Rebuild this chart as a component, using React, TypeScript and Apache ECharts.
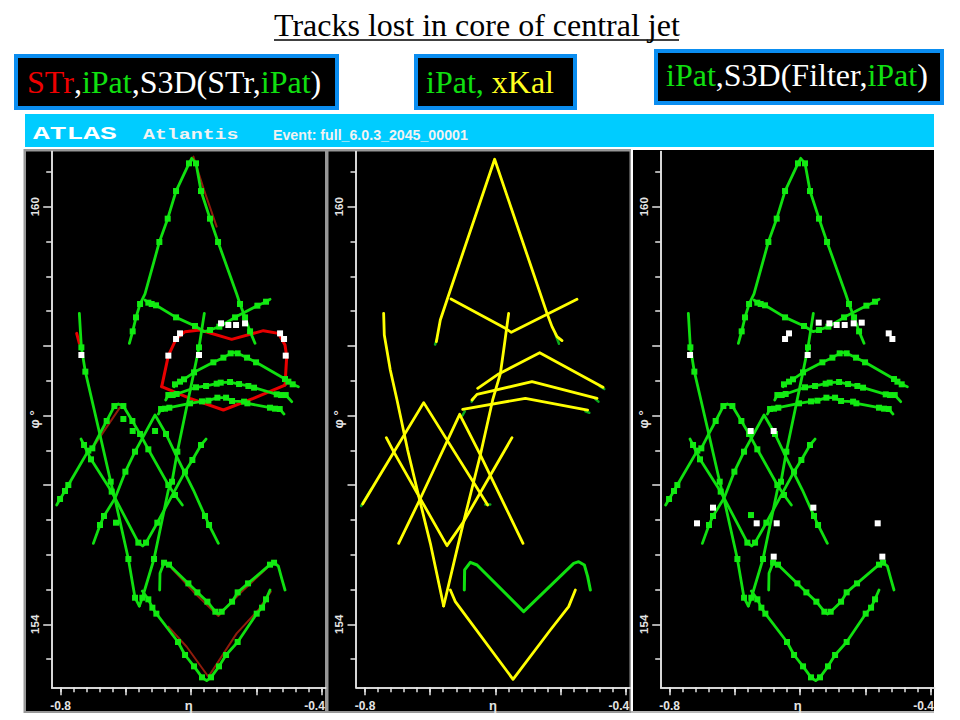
import React, { useEffect, useRef } from "react";
import * as echarts from "echarts";

type Pt = number[]; // [eta, phi, hit?]

// iPat tracks shown in panels 1 and 3: [eta, phi, 1 when a hit square sits on it]
const trackApex: Pt[] = [[-0.6947,158.037],[-0.6896,158.209,1],[-0.6845,158.41,1],[-0.6783,158.602,1],[-0.6707,158.746],[-0.6487,159.493,1],[-0.6359,159.828,1],[-0.6231,160.225,1],[-0.6032,160.623,1],[-0.5991,160.695],[-0.5925,160.623,1],[-0.5848,160.225,1],[-0.571,159.828,1],[-0.5587,159.493,1],[-0.5301,158.746],[-0.525,158.602,1],[-0.5173,158.41,1],[-0.5096,158.209,1],[-0.502,158.037]];
const trackShallowV: Pt[] = [[-0.6707,158.659],[-0.6656,158.621,1],[-0.6605,158.602,1],[-0.6538,158.583,1],[-0.6231,158.41,1],[-0.594,158.286,1],[-0.5797,158.204],[-0.571,158.228,1],[-0.5567,158.276,1],[-0.5326,158.41,1],[-0.4984,158.578,1],[-0.4851,158.635,1],[-0.479,158.669]];
const trackChevronHigh: Pt[] = [[-0.6262,157.414],[-0.6247,157.448,1],[-0.617,157.486,1],[-0.6109,157.52,1],[-0.5955,157.62,1],[-0.5659,157.764,1],[-0.5505,157.831,1],[-0.5393,157.893,1],[-0.5352,157.907],[-0.5286,157.893,1],[-0.5142,157.831,1],[-0.5004,157.764,1],[-0.456,157.524,1],[-0.4508,157.486,1],[-0.4442,157.448,1],[-0.4355,157.414]];
const trackChevronMid: Pt[] = [[-0.639,157.223],[-0.6349,157.294,1],[-0.6282,157.294,1],[-0.6221,157.309,1],[-0.5925,157.405,1],[-0.5771,157.424,1],[-0.5608,157.457,1],[-0.5546,157.472,1],[-0.5403,157.481,1],[-0.5265,157.452,1],[-0.5122,157.424,1],[-0.5035,157.4,1],[-0.4687,157.304,1],[-0.4621,157.294,1],[-0.4549,157.294,1],[-0.4457,157.199]];
const trackChevronLow: Pt[] = [[-0.6502,157.021],[-0.6461,157.093,1],[-0.64,157.098,1],[-0.6334,157.112,1],[-0.6017,157.175,1],[-0.5833,157.203,1],[-0.5735,157.213,1],[-0.5597,157.256,1],[-0.5464,157.256,1],[-0.5372,157.208,1],[-0.5188,157.199,1],[-0.5137,157.175,1],[-0.479,157.112,1],[-0.4713,157.098,1],[-0.4641,157.093,1],[-0.4575,157.021]];
const trackLongFall: Pt[] = [[-0.7714,158.468],[-0.7683,157.979,1],[-0.7622,157.63,1],[-0.7397,156.72],[-0.7233,156.049,1],[-0.7157,155.757],[-0.6962,154.938,1],[-0.686,154.382,1],[-0.6794,154.263]];
const trackLongRise: Pt[] = [[-0.6794,154.263],[-0.6748,154.382,1],[-0.6569,154.938,1],[-0.6349,155.929],[-0.6293,156.049,1],[-0.6211,156.48,1],[-0.5955,157.63],[-0.5879,157.979,1],[-0.5797,158.468]];
const trackPeakA: Pt[] = [[-0.8062,155.714],[-0.801,155.8,1],[-0.7934,155.915,1],[-0.7883,156.001,1],[-0.7576,156.495,1],[-0.7515,156.528,1],[-0.7397,156.744],[-0.7295,156.921,1],[-0.7177,157.136,1],[-0.7116,157.165],[-0.7039,157.136,1],[-0.6901,156.921,1],[-0.6783,156.734,1],[-0.6656,156.514,1],[-0.6349,156.001,1],[-0.6247,155.858,1],[-0.6134,155.714]];
const trackPeakB: Pt[] = [[-0.7499,155.163],[-0.7397,155.427,1],[-0.7336,155.556,1],[-0.7167,155.81],[-0.7008,156.193,1],[-0.686,156.48,1],[-0.6553,157.007],[-0.6385,156.734,1],[-0.6211,156.39],[-0.5965,155.929],[-0.5787,155.556,1],[-0.5725,155.427,1],[-0.5582,155.163]];
const trackDeepV: Pt[] = [[-0.7688,156.662],[-0.7642,156.576,1],[-0.7535,156.37,1],[-0.7218,155.906,1],[-0.6809,155.173,1],[-0.6743,155.125],[-0.6691,155.173,1],[-0.6518,155.46,1],[-0.6093,156.193,1],[-0.5981,156.361,1],[-0.5848,156.576,1],[-0.5771,156.662]];
const trackCurvedUpper: Pt[] = [[-0.6482,154.493],[-0.6477,154.732],[-0.6415,154.885,1],[-0.6339,154.857,1],[-0.6042,154.588,1],[-0.5904,154.459,1],[-0.5751,154.325,1],[-0.5628,154.181,1],[-0.5582,154.148],[-0.5531,154.181,1],[-0.5372,154.325,1],[-0.5286,154.459,1],[-0.5127,154.588,1],[-0.479,154.857,1],[-0.4728,154.885,1],[-0.4662,154.837],[-0.4611,154.66],[-0.456,154.493]];
const trackCurvedLower: Pt[] = [[-0.6748,154.478],[-0.6656,154.359,1],[-0.6594,154.239,1],[-0.6533,154.153,1],[-0.6201,153.746,1],[-0.6093,153.559,1],[-0.5955,153.396,1],[-0.5833,153.238,1],[-0.5761,153.19],[-0.5695,153.238,1],[-0.5572,153.396,1],[-0.5464,153.559,1],[-0.5286,153.746,1],[-0.4994,154.153,1],[-0.4912,154.239,1],[-0.4851,154.359,1],[-0.479,154.493]];
const greenTracks = [trackApex, trackShallowV, trackChevronHigh, trackChevronMid, trackChevronLow, trackLongFall, trackLongRise, trackPeakA, trackPeakB, trackDeepV, trackCurvedUpper, trackCurvedLower];

// Panel-only square hits
const greenHitsPanel1 = [[-0.7039,156.95],[-0.6896,156.777],[-0.6553,156.777],[-0.7152,155.46]];
const greenHitsPanel3 = [[-0.6753,155.57]];
const whiteHitsPanel1 = [[-0.7683,157.869],[-0.6349,157.86],[-0.6231,158.099],[-0.617,158.18],[-0.5879,157.869],[-0.5541,158.324],[-0.5429,158.3],[-0.5311,158.3],[-0.5173,158.324],[-0.4636,158.18],[-0.4575,158.099],[-0.4549,157.86]];
const whiteHitsPanel3 = [[-0.7688,157.869],[-0.6231,158.099],[-0.617,158.18],[-0.5884,157.869],[-0.5715,158.334],[-0.5551,158.324],[-0.5439,158.3],[-0.5316,158.3],[-0.5178,158.324],[-0.5055,158.334],[-0.4641,158.18],[-0.4585,158.099],[-0.6758,156.777],[-0.6405,156.777],[-0.7336,155.676],[-0.7581,155.451],[-0.6666,155.451],[-0.6359,155.451],[-0.5797,155.676],[-0.481,155.451],[-0.6405,154.972],[-0.4739,154.972]];

// STr tracks of panel 1
const redTracks = [
  [[-0.6451,157.414],[-0.6349,157.86],[-0.6231,158.099],[-0.6093,158.204],[-0.5863,158.228],[-0.5378,158.094],[-0.4892,158.219],[-0.4662,158.18],[-0.456,158.013],[-0.4534,157.845],[-0.456,157.438]],
  [[-0.6451,157.414],[-0.6017,157.246],[-0.5505,157.079],[-0.5045,157.246],[-0.456,157.438]],
  [[-0.7755,158.18],[-0.7714,158.037]],
];
const redShadows = [
  [[-0.5965,160.719],[-0.5802,160.24],[-0.5608,159.713]],
  [[-0.7525,156.514],[-0.709,157.117]],
  [[-0.6298,154.804],[-0.5965,154.469],[-0.5582,154.119],[-0.525,154.445],[-0.4841,154.804]],
  [[-0.6349,153.966],[-0.6068,153.678],[-0.5735,153.247],[-0.5301,153.87],[-0.4969,154.205],[-0.4779,154.469]],
];

// xKal tracks of panel 2
const yellowTracks = [
  [[-0.6906,158.061],[-0.6845,158.373],[-0.6691,158.804],[-0.6012,160.681],[-0.5209,158.468],[-0.5132,158.277],[-0.5055,158.133],[-0.4979,158.076]],
  [[-0.6681,158.674],[-0.5848,158.253],[-0.5756,158.195],[-0.4749,158.669]],
  [[-0.6272,157.391],[-0.595,157.597],[-0.5321,157.903],[-0.435,157.405]],
  [[-0.6359,157.223],[-0.6282,157.304],[-0.5439,157.486],[-0.4442,157.247]],
  [[-0.6502,157.089],[-0.5541,157.247],[-0.4585,157.079]],
  [[-0.7714,158.468],[-0.7704,158.157],[-0.7612,157.654],[-0.7509,157.223],[-0.7346,156.505],[-0.7162,155.786],[-0.6998,155.164],[-0.6794,154.263]],
  [[-0.6794,154.263],[-0.6615,154.972],[-0.6487,155.475],[-0.6231,156.433],[-0.6042,157.223],[-0.5925,157.597],[-0.5873,157.941],[-0.5797,158.468]],
  [[-0.8036,155.729],[-0.7816,156.074],[-0.71,157.185],[-0.6119,155.714]],
  [[-0.7484,155.164],[-0.7162,155.786],[-0.6548,157.017],[-0.6231,156.433],[-0.5577,155.164]],
  [[-0.7673,156.682],[-0.7561,156.481],[-0.6743,155.13],[-0.6487,155.475],[-0.5746,156.682]],
  [[-0.6691,154.493],[-0.6615,154.326],[-0.573,153.21],[-0.5158,153.918],[-0.4877,154.254],[-0.4774,154.493]],
];
const greenOnlyPanel2 = [[-0.6477,154.493],[-0.6472,154.781],[-0.6385,154.891],[-0.6282,154.852],[-0.5567,154.182],[-0.48,154.876],[-0.4723,154.9],[-0.4636,154.852],[-0.4585,154.685],[-0.4544,154.493]];
const greenTipsPanel2 = [
  [[-0.6925,158.02],[-0.6895,158.1]],
  [[-0.5085,158.18],[-0.5025,158.03]],
  [[-0.806,155.7],[-0.79,155.95]],
  [[-0.6155,155.72],[-0.608,155.72]],
  [[-0.6505,157.0],[-0.647,157.06]],
  [[-0.6365,157.2],[-0.633,157.25]],
  [[-0.462,157.06],[-0.456,157.04]],
  [[-0.447,157.24],[-0.442,157.2]],
  [[-0.44,157.42],[-0.433,157.38]],
];

// Axes
const etaMajorTicks = [-0.8, -0.7, -0.6, -0.5, -0.4];
const etaMinorTicks = [-0.8,-0.78,-0.76,-0.74,-0.72,-0.7,-0.68,-0.66,-0.64,-0.62,-0.6,-0.58,-0.56,-0.54,-0.52,-0.5,-0.48,-0.46,-0.44,-0.42,-0.4];
const etaTickLabels = [-0.8, -0.4];
const phiMajorTicks = [160, 158, 157, 156, 154];
const phiMinorTicks = [160.5,159.5,159,158.5,157.5,156.5,155.5,155,154.5,153.5];
const phiTickLabels = [160, 154];
const ETA_MIN = -0.8138, ETA_MAX = -0.3936, PHI_MIN = 153.095, PHI_MAX = 160.793;

const panelLeft = [51.7, 356, 660.7];
const AXIS = "#e4e4e4";
const GREEN = "#10e010";
const SANS = '"Liberation Sans", Arial, sans-serif';
const SERIF = '"Liberation Serif", "Times New Roman", serif';

function line(data: number[][], p: number, color: string, width: number, z = 3) {
  return {
    type: "line", xAxisIndex: p * 2, yAxisIndex: p * 2, data: data.map((d) => [d[0], d[1]]),
    showSymbol: false, symbol: "none", silent: true, z,
    lineStyle: { color, width, cap: "round", join: "round" },
  };
}
function squares(data: number[][], p: number, color: string, size = 6, z = 5) {
  return {
    type: "scatter", xAxisIndex: p * 2, yAxisIndex: p * 2, data: data.map((d) => [d[0], d[1]]),
    symbol: "rect", symbolSize: size, silent: true, z, itemStyle: { color, opacity: 1 },
  };
}

function buildOption() {
  const grid = panelLeft.map((left) => ({ left, top: 151.5, width: 274, height: 535.8, show: false, outerBoundsMode: "none" }));
  const xAxis: any[] = [], yAxis: any[] = [];
  const labelFont = { color: AXIS, fontFamily: SANS, fontWeight: "bold", fontSize: 12 };
  panelLeft.forEach((_, i) => {
    const xBase = { type: "value", gridIndex: i, min: ETA_MIN, max: ETA_MAX, position: "bottom", splitLine: { show: false }, axisLine: { onZero: false, lineStyle: { color: AXIS, width: 1.5 } } };
    const yBase = { type: "value", gridIndex: i, min: PHI_MIN, max: PHI_MAX, position: "left", splitLine: { show: false }, axisLine: { onZero: false, lineStyle: { color: AXIS, width: 1.5 } } };
    xAxis.push(
      { ...xBase, name: "η", nameLocation: "middle", nameGap: 12, nameMoveOverlap: false, nameTextStyle: { color: AXIS, fontFamily: SANS, fontWeight: "bold", fontSize: 13 },
        axisTick: { customValues: etaMajorTicks, length: 8, lineStyle: { color: AXIS, width: 1.5 } },
        axisLabel: { customValues: etaTickLabels, ...labelFont, margin: 13,
          formatter: (v: number) => (v > -0.5 ? `{end|${v}}` : `${v}`),
          rich: { end: { ...labelFont, padding: [0, 14, 0, 0] } } } },
      { ...xBase, axisTick: { customValues: etaMinorTicks, length: 5, lineStyle: { color: AXIS, width: 1.5 } }, axisLabel: { show: false } }
    );
    yAxis.push(
      { ...yBase, name: "φ °", nameLocation: "middle", nameRotate: 90, nameGap: 11, nameMoveOverlap: false, nameTextStyle: { color: AXIS, fontFamily: SANS, fontWeight: "bold", fontSize: 13 },
        axisTick: { customValues: phiMajorTicks, length: 8.5, lineStyle: { color: AXIS, width: 1.5 } },
        axisLabel: { customValues: phiTickLabels, rotate: 90, color: AXIS, fontFamily: SANS, fontWeight: "bold", fontSize: 11.5, margin: 11 } },
      { ...yBase, axisTick: { customValues: phiMinorTicks, length: 5.5, lineStyle: { color: AXIS, width: 1.5 } }, axisLabel: { show: false } }
    );
  });

  const series: any[] = [];
  // Panel 1
  redShadows.forEach((t) => series.push(line(t, 0, "#8f1c0c", 2, 2)));
  redTracks.forEach((t) => series.push(line(t, 0, "#e80000", 3, 2)));
  greenTracks.forEach((t) => {
    series.push(line(t, 0, GREEN, 2.8));
    series.push(squares(t.filter((d) => d[2]), 0, "#12ea12"));
  });
  series.push(squares(greenHitsPanel1, 0, "#12ea12"));
  series.push(squares(whiteHitsPanel1, 0, "#ffffff", 6, 6));
  // Panel 2
  greenTipsPanel2.forEach((t) => series.push(line(t, 1, "#0aa81e", 2.5, 2)));
  series.push(line(greenOnlyPanel2, 1, GREEN, 3));
  yellowTracks.forEach((t) => series.push(line(t, 1, "#ffff00", 2.8)));
  // Panel 3
  greenTracks.forEach((t) => {
    series.push(line(t, 2, GREEN, 2.8));
    series.push(squares(t.filter((d) => d[2]), 2, "#12ea12"));
  });
  series.push(squares(greenHitsPanel3, 2, "#12ea12"));
  series.push(squares(whiteHitsPanel3, 2, "#ffffff", 6, 6));

  const BLUE = "#0a8df0";
  const box = (x: number, y: number, w: number, h: number) => ({
    type: "rect", shape: { x: x + 2, y: y + 2, width: w - 4, height: h - 4 }, style: { fill: "#000", stroke: BLUE, lineWidth: 4 }, z: -5,
  });
  const headerRich = {
    r: { fill: "#ee0000", fontFamily: SERIF, fontSize: 32 },
    g: { fill: "#10e010", fontFamily: SERIF, fontSize: 32 },
    w: { fill: "#ffffff", fontFamily: SERIF, fontSize: 32 },
    y: { fill: "#ffff20", fontFamily: SERIF, fontSize: 32 },
  };
  const header = (x: number, y: number, text: string) => ({
    type: "text", x, y, z: 1, style: { text, rich: headerRich, font: `32px ${SERIF}`, fill: "#fff", verticalAlign: "middle", align: "left" },
  });
  const graphic = [
    { type: "line", shape: { x1: 274, y1: 40, x2: 679, y2: 40 }, style: { stroke: "#000", lineWidth: 1.6 } },
    box(14, 54, 325, 56), box(414, 54, 163, 56), box(654, 49, 290, 56),
    header(27, 82, "{r|STr}{w|,}{g|iPat}{w|,S3D(STr,}{g|iPat}{w|)}"),
    header(426, 82, "{g|iPat,} {y|xKal}"),
    header(666, 75, "{g|iPat}{w|,S3D(Filter,}{g|iPat}{w|)}"),
    { type: "rect", shape: { x: 25, y: 114, width: 909, height: 33 }, style: { fill: "#00ccff" }, z: -5 },
    { type: "text", x: 33, y: 134, scaleX: 1.55, z: 1, style: { text: "ATLAS", fill: "#fff", font: `bold 18px "Liberation Mono", monospace`, verticalAlign: "middle" } },
    { type: "text", x: 143, y: 135.5, scaleX: 1.42, z: 1, style: { text: "Atlantis", fill: "#f2f2f2", font: `bold 14px "Liberation Mono", monospace`, verticalAlign: "middle" } },
    { type: "text", x: 273, y: 135, z: 1, style: { text: "Event: full_6.0.3_2045_00001", fill: "#f2f2f2", font: `bold 14.2px ${SANS}`, verticalAlign: "middle" } },
    { type: "rect", shape: { x: 23.5, y: 149, width: 607.5, height: 564 }, style: { fill: "#979797" }, z: -5 },
    { type: "rect", shape: { x: 26, y: 151.5, width: 299, height: 559.5 }, style: { fill: "#000" }, z: -4 },
    { type: "rect", shape: { x: 328.5, y: 151.5, width: 301, height: 559.5 }, style: { fill: "#000" }, z: -4 },
    { type: "rect", shape: { x: 631, y: 711, width: 303, height: 2 }, style: { fill: "#b8b8b8" }, z: -4 },
    { type: "rect", shape: { x: 633, y: 150, width: 301, height: 561 }, style: { fill: "#000" }, z: -4 },
  ];

  return {
    animation: false,
    backgroundColor: "#fff",
    title: { text: "Tracks lost in core of central jet", left: 274, top: 9, padding: 0, textStyle: { color: "#000", fontFamily: SERIF, fontWeight: "normal", fontSize: 32 } },
    grid, xAxis, yAxis, series, graphic,
  };
}

export default function App() {
  const ref = useRef<HTMLDivElement>(null);
  useEffect(() => {
    const chart = echarts.init(ref.current!, undefined, { renderer: "svg" });
    chart.setOption(buildOption() as any);
    return () => chart.dispose();
  }, []);
  return <div ref={ref} style={{ position: "fixed", left: 0, top: 0, width: 960, height: 720 }} />;
}
